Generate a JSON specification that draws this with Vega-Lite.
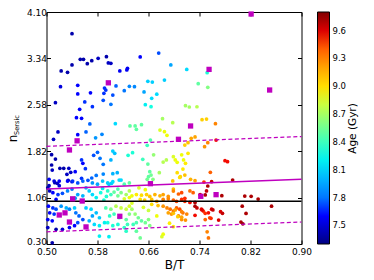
{
"$schema": "https://vega.github.io/schema/vega-lite/v6.json",
"width": 255, "height": 232,
"autosize": "none",
"padding": {"left": 46.5, "top": 12, "right": 72.5, "bottom": 36},
"config": {
 "font": "DejaVu Sans",
 "view": {"stroke": "black", "strokeWidth": 1},
 "axis": {"grid": false, "domain": false, "tickColor": "black", "tickSize": -4, "labelColor": "black", "labelFontSize": 9, "titleColor": "black", "titleFontWeight": "normal", "labelFont": "DejaVu Sans", "titleFont": "DejaVu Sans", "labelFlush": false, "labelOverlap": false},
 "legend": {"labelColor": "black", "labelFont": "DejaVu Sans", "padding": 0}
},
"datasets": {
"pts": [
{"bt":0.540,"n":3.745,"age":7.4},{"bt":0.553,"n":3.325,"age":7.4},{"bt":0.558,"n":3.325,"age":7.4},{"bt":0.594,"n":3.368,"age":7.4},{"bt":0.581,"n":3.342,"age":7.45},{"bt":0.571,"n":3.302,"age":7.4},{"bt":0.564,"n":3.253,"age":7.4},{"bt":0.540,"n":3.232,"age":7.4},{"bt":0.523,"n":3.134,"age":7.4},{"bt":0.533,"n":3.112,"age":7.4},{"bt":0.597,"n":3.265,"age":7.45},{"bt":0.601,"n":3.26,"age":7.45},{"bt":0.615,"n":3.134,"age":7.55},{"bt":0.627,"n":3.178,"age":7.55},{"bt":0.626,"n":3.15,"age":7.55},{"bt":0.647,"n":3.363,"age":7.6},{"bt":0.676,"n":3.428,"age":7.7},{"bt":0.695,"n":3.232,"age":7.95},{"bt":0.720,"n":3.16,"age":8.15},{"bt":0.752,"n":3.106,"age":8.3},
{"bt":0.522,"n":2.877,"age":7.5},{"bt":0.549,"n":2.90,"age":7.6},{"bt":0.549,"n":2.757,"age":7.6},{"bt":0.514,"n":2.614,"age":7.45},{"bt":0.552,"n":2.506,"age":7.6},{"bt":0.547,"n":2.369,"age":7.6},{"bt":0.555,"n":2.359,"age":7.6},{"bt":0.560,"n":2.626,"age":7.65},{"bt":0.569,"n":2.776,"age":7.6},{"bt":0.572,"n":2.549,"age":7.65},{"bt":0.568,"n":2.266,"age":7.75},{"bt":0.562,"n":2.135,"age":7.75},{"bt":0.549,"n":2.091,"age":7.6},{"bt":0.518,"n":2.135,"age":7.45},{"bt":0.511,"n":2.015,"age":7.45},{"bt":0.577,"n":2.04,"age":7.9},{"bt":0.587,"n":2.097,"age":7.85},{"bt":0.589,"n":2.654,"age":7.7},{"bt":0.590,"n":2.769,"age":7.65},{"bt":0.591,"n":2.855,"age":7.65},{"bt":0.593,"n":2.822,"age":7.65},{"bt":0.601,"n":2.588,"age":7.8},{"bt":0.604,"n":2.74,"age":7.7},{"bt":0.609,"n":2.888,"age":7.75},{"bt":0.622,"n":2.811,"age":7.8},{"bt":0.630,"n":2.883,"age":7.85},{"bt":0.638,"n":2.877,"age":7.85},{"bt":0.653,"n":2.79,"age":7.95},{"bt":0.659,"n":2.964,"age":8.1},{"bt":0.666,"n":2.953,"age":8.1},{"bt":0.685,"n":2.985,"age":8.1},{"bt":0.673,"n":2.753,"age":8.15},{"bt":0.665,"n":2.687,"age":8.15},{"bt":0.655,"n":2.582,"age":8.2},{"bt":0.664,"n":2.549,"age":8.25},{"bt":0.608,"n":2.271,"age":8.15},{"bt":0.631,"n":2.233,"age":8.5},{"bt":0.639,"n":2.233,"age":8.5},{"bt":0.641,"n":2.179,"age":8.5},{"bt":0.649,"n":2.254,"age":8.5},{"bt":0.682,"n":2.353,"age":8.7},{"bt":0.698,"n":2.287,"age":8.75},{"bt":0.678,"n":2.167,"age":8.85},{"bt":0.685,"n":2.14,"age":8.9},{"bt":0.689,"n":2.08,"age":8.9},{"bt":0.718,"n":2.565,"age":8.7},{"bt":0.724,"n":2.544,"age":8.7},{"bt":0.736,"n":2.548,"age":8.75},{"bt":0.738,"n":2.926,"age":8.5},{"bt":0.753,"n":2.866,"age":8.6},{"bt":0.744,"n":2.337,"age":9.05},{"bt":0.751,"n":2.347,"age":9.05},{"bt":0.765,"n":2.271,"age":9.3},{"bt":0.727,"n":2.031,"age":9.2},{"bt":0.733,"n":2.053,"age":9.2},
{"bt":0.663,"n":2.003,"age":8.45},{"bt":0.658,"n":1.916,"age":8.4},{"bt":0.604,"n":1.823,"age":8.1},{"bt":0.635,"n":1.796,"age":8.3},{"bt":0.628,"n":1.752,"age":8.3},{"bt":0.651,"n":1.687,"age":8.4},{"bt":0.659,"n":1.61,"age":8.5},{"bt":0.683,"n":1.643,"age":8.75},{"bt":0.688,"n":1.676,"age":8.75},{"bt":0.604,"n":1.452,"age":8.0},{"bt":0.611,"n":1.468,"age":8.0},{"bt":0.662,"n":1.485,"age":8.5},{"bt":0.664,"n":1.43,"age":8.55},{"bt":0.660,"n":1.403,"age":8.5},{"bt":0.658,"n":1.36,"age":8.55},{"bt":0.667,"n":1.36,"age":8.6},{"bt":0.677,"n":1.468,"age":8.7},{"bt":0.614,"n":1.348,"age":8.15},{"bt":0.617,"n":1.348,"age":8.15},{"bt":0.598,"n":1.277,"age":8.1},{"bt":0.602,"n":1.293,"age":8.1},{"bt":0.698,"n":1.332,"age":9.1},
{"bt":0.722,"n":1.96,"age":9.1},{"bt":0.717,"n":1.92,"age":9.05},{"bt":0.753,"n":1.96,"age":9.3},{"bt":0.748,"n":1.894,"age":9.25},{"bt":0.766,"n":2.003,"age":9.55},{"bt":0.722,"n":1.785,"age":8.95},{"bt":0.702,"n":1.676,"age":8.9},{"bt":0.705,"n":1.638,"age":8.9},{"bt":0.715,"n":1.676,"age":8.9},{"bt":0.718,"n":1.621,"age":8.95},{"bt":0.714,"n":1.528,"age":8.95},{"bt":0.705,"n":1.468,"age":9.0},{"bt":0.710,"n":1.403,"age":9.05},{"bt":0.717,"n":1.43,"age":9.1},{"bt":0.780,"n":1.665,"age":9.55},{"bt":0.784,"n":1.649,"age":9.55},{"bt":0.757,"n":1.474,"age":9.4},{"bt":0.726,"n":1.36,"age":9.15},{"bt":0.733,"n":1.337,"age":9.2},{"bt":0.747,"n":1.315,"age":9.5},{"bt":0.792,"n":1.348,"age":9.7},{"bt":0.753,"n":1.25,"age":9.7},{"bt":0.709,"n":1.39,"age":9.0},{"bt":0.759,"n":1.32,"age":9.65},
{"bt":0.580,"n":1.802,"age":7.75},{"bt":0.574,"n":1.752,"age":7.7},{"bt":0.589,"n":1.605,"age":7.8},{"bt":0.508,"n":1.763,"age":7.4},{"bt":0.514,"n":1.692,"age":7.4},{"bt":0.508,"n":1.594,"age":7.4},{"bt":0.509,"n":1.512,"age":7.45},{"bt":0.521,"n":1.54,"age":7.4},{"bt":0.527,"n":1.54,"age":7.4},{"bt":0.535,"n":1.54,"age":7.45},{"bt":0.538,"n":1.474,"age":7.45},{"bt":0.532,"n":1.441,"age":7.45},{"bt":0.557,"n":1.621,"age":7.6},{"bt":0.561,"n":1.533,"age":7.65},{"bt":0.534,"n":1.343,"age":7.45},{"bt":0.555,"n":1.375,"age":7.65},{"bt":0.565,"n":1.343,"age":7.7},{"bt":0.571,"n":1.381,"age":7.75},{"bt":0.578,"n":1.424,"age":7.8},{"bt":0.589,"n":1.446,"age":7.85},{"bt":0.513,"n":1.304,"age":7.4},{"bt":0.517,"n":1.293,"age":7.45},{"bt":0.504,"n":1.255,"age":7.45},{"bt":0.520,"n":1.255,"age":7.5},{"bt":0.555,"n":1.676,"age":7.65},{"bt":0.584,"n":1.703,"age":7.8},{"bt":0.545,"n":1.485,"age":7.6},{"bt":0.601,"n":1.676,"age":8.0},{"bt":0.607,"n":1.785,"age":8.05},{"bt":0.540,"n":1.32,"age":7.5},{"bt":0.668,"n":1.76,"age":8.65},{"bt":0.699,"n":1.73,"age":8.85},{"bt":0.712,"n":1.76,"age":8.9},
{"bt":0.504,"n":1.36,"age":7.55},{"bt":0.512,"n":1.33,"age":7.5},{"bt":0.520,"n":1.33,"age":7.55},{"bt":0.533,"n":1.33,"age":7.6},{"bt":0.541,"n":1.33,"age":7.65},{"bt":0.549,"n":1.30,"age":7.7},{"bt":0.557,"n":1.33,"age":7.75},{"bt":0.572,"n":1.30,"age":7.9},{"bt":0.580,"n":1.28,"age":7.95},{"bt":0.588,"n":1.33,"age":8.05},{"bt":0.596,"n":1.30,"age":8.1},{"bt":0.604,"n":1.32,"age":8.15},{"bt":0.622,"n":1.28,"age":8.45},{"bt":0.630,"n":1.30,"age":8.5},{"bt":0.502,"n":1.22,"age":7.4},{"bt":0.505,"n":1.17,"age":7.45},
{"bt":0.510,"n":1.14,"age":7.6},{"bt":0.518,"n":1.11,"age":7.65},{"bt":0.525,"n":1.13,"age":7.7},{"bt":0.533,"n":1.17,"age":7.85},{"bt":0.549,"n":1.11,"age":7.95},{"bt":0.557,"n":1.09,"age":8.0},{"bt":0.567,"n":1.17,"age":8.1},{"bt":0.572,"n":1.11,"age":8.15},{"bt":0.578,"n":1.06,"age":8.2},{"bt":0.585,"n":1.14,"age":8.25},{"bt":0.594,"n":1.08,"age":8.3},{"bt":0.596,"n":1.17,"age":8.35},{"bt":0.601,"n":1.11,"age":8.4},{"bt":0.606,"n":1.15,"age":8.5},{"bt":0.612,"n":1.09,"age":8.55},{"bt":0.617,"n":1.14,"age":8.6},{"bt":0.625,"n":1.11,"age":8.7},{"bt":0.630,"n":1.17,"age":8.75},{"bt":0.622,"n":1.04,"age":8.85},{"bt":0.630,"n":1.06,"age":8.9},{"bt":0.540,"n":1.20,"age":7.8},{"bt":0.562,"n":1.22,"age":8.0},{"bt":0.588,"n":1.21,"age":8.2},{"bt":0.612,"n":1.20,"age":8.45},{"bt":0.545,"n":1.05,"age":7.9},{"bt":0.590,"n":1.02,"age":8.3},{"bt":0.515,"n":1.03,"age":7.6},
{"bt":0.503,"n":0.92,"age":7.6},{"bt":0.510,"n":0.89,"age":7.65},{"bt":0.515,"n":0.87,"age":7.7},{"bt":0.505,"n":0.81,"age":7.6},{"bt":0.512,"n":0.79,"age":7.65},{"bt":0.502,"n":0.70,"age":7.55},{"bt":0.509,"n":0.68,"age":7.6},{"bt":0.502,"n":0.57,"age":7.45},{"bt":0.515,"n":0.54,"age":7.4},{"bt":0.525,"n":0.54,"age":7.5},{"bt":0.536,"n":0.57,"age":7.55},{"bt":0.509,"n":0.32,"age":7.4},{"bt":0.523,"n":0.92,"age":7.9},{"bt":0.531,"n":0.89,"age":8.0},{"bt":0.536,"n":0.87,"age":7.85},{"bt":0.544,"n":0.89,"age":8.1},{"bt":0.546,"n":0.81,"age":7.8},{"bt":0.551,"n":0.76,"age":7.75},{"bt":0.557,"n":0.70,"age":7.7},{"bt":0.549,"n":0.65,"age":7.7},{"bt":0.544,"n":0.60,"age":7.6},{"bt":0.562,"n":0.89,"age":8.1},{"bt":0.570,"n":0.87,"age":8.15},{"bt":0.578,"n":0.81,"age":8.05},{"bt":0.572,"n":0.76,"age":7.95},{"bt":0.583,"n":0.73,"age":8.1},{"bt":0.567,"n":0.68,"age":8.0},{"bt":0.575,"n":0.62,"age":8.15},{"bt":0.583,"n":0.60,"age":8.2},{"bt":0.591,"n":0.65,"age":8.2},{"bt":0.593,"n":0.89,"age":8.45},{"bt":0.601,"n":0.87,"age":8.6},{"bt":0.609,"n":0.92,"age":8.75},{"bt":0.617,"n":0.89,"age":8.8},{"bt":0.625,"n":0.87,"age":8.8},{"bt":0.630,"n":0.92,"age":8.85},{"bt":0.599,"n":0.76,"age":8.35},{"bt":0.606,"n":0.79,"age":8.4},{"bt":0.614,"n":0.73,"age":8.45},{"bt":0.625,"n":0.70,"age":8.5},{"bt":0.630,"n":0.79,"age":8.6},{"bt":0.596,"n":0.65,"age":8.25},{"bt":0.604,"n":0.60,"age":8.3},{"bt":0.612,"n":0.62,"age":8.3},{"bt":0.622,"n":0.57,"age":8.35},{"bt":0.627,"n":0.62,"age":8.4},{"bt":0.583,"n":0.43,"age":8.2},{"bt":0.625,"n":0.51,"age":8.35},{"bt":0.598,"n":0.42,"age":8.2},
{"bt":0.699,"n":1.20,"age":9.1},{"bt":0.725,"n":1.17,"age":9.35},{"bt":0.730,"n":1.14,"age":9.4},{"bt":0.741,"n":1.11,"age":9.65},{"bt":0.751,"n":1.17,"age":9.65},
{"bt":0.634,"n":1.09,"age":8.9},{"bt":0.641,"n":1.11,"age":8.95},{"bt":0.649,"n":1.10,"age":9.0},{"bt":0.657,"n":1.11,"age":9.05},{"bt":0.662,"n":1.08,"age":9.1},{"bt":0.670,"n":1.11,"age":9.15},{"bt":0.678,"n":1.09,"age":9.15},{"bt":0.683,"n":1.11,"age":9.2},{"bt":0.691,"n":1.08,"age":9.25},
{"bt":0.647,"n":1.03,"age":9.0},{"bt":0.654,"n":1.02,"age":9.05},{"bt":0.665,"n":1.03,"age":9.1},{"bt":0.673,"n":1.00,"age":9.2},
{"bt":0.683,"n":1.03,"age":9.3},{"bt":0.691,"n":1.04,"age":9.3},{"bt":0.699,"n":1.02,"age":9.4},{"bt":0.704,"n":1.00,"age":9.45},{"bt":0.712,"n":1.03,"age":9.5},{"bt":0.717,"n":1.00,"age":9.5},{"bt":0.725,"n":0.98,"age":9.55},
{"bt":0.733,"n":0.98,"age":9.7},{"bt":0.733,"n":0.92,"age":9.7},{"bt":0.736,"n":0.89,"age":9.65},
{"bt":0.683,"n":0.92,"age":9.25},{"bt":0.689,"n":0.89,"age":9.3},{"bt":0.694,"n":0.87,"age":9.35},{"bt":0.699,"n":0.84,"age":9.35},{"bt":0.691,"n":0.81,"age":9.2},{"bt":0.696,"n":0.79,"age":9.25},{"bt":0.704,"n":0.89,"age":9.4},{"bt":0.709,"n":0.87,"age":9.45},{"bt":0.714,"n":0.81,"age":9.35},{"bt":0.707,"n":0.76,"age":9.3},{"bt":0.712,"n":0.70,"age":9.25},
{"bt":0.743,"n":0.87,"age":9.55},{"bt":0.746,"n":0.84,"age":9.5},{"bt":0.754,"n":0.81,"age":9.55},{"bt":0.759,"n":0.87,"age":9.6},{"bt":0.756,"n":0.73,"age":9.45},{"bt":0.749,"n":0.70,"age":9.4},
{"bt":0.754,"n":0.40,"age":9.35},{"bt":0.634,"n":0.87,"age":8.7},{"bt":0.639,"n":0.79,"age":8.65},{"bt":0.644,"n":0.73,"age":8.55},{"bt":0.649,"n":0.68,"age":8.5},{"bt":0.655,"n":0.65,"age":8.55},{"bt":0.660,"n":0.70,"age":8.6},{"bt":0.641,"n":0.65,"age":8.45},{"bt":0.636,"n":0.62,"age":8.4},{"bt":0.662,"n":0.60,"age":8.6},{"bt":0.647,"n":0.40,"age":8.55},{"bt":0.641,"n":0.51,"age":8.5},{"bt":0.673,"n":0.76,"age":8.9},{"bt":0.683,"n":0.46,"age":8.9},{"bt":0.681,"n":0.42,"age":8.85},{"bt":0.634,"n":0.97,"age":8.85},{"bt":0.645,"n":1.22,"age":8.85},{"bt":0.655,"n":1.19,"age":8.9},{"bt":0.665,"n":0.95,"age":9.0},{"bt":0.675,"n":0.93,"age":9.1},{"bt":0.652,"n":0.90,"age":8.85},{"bt":0.660,"n":0.85,"age":8.8},
{"bt":0.699,"n":1.168,"age":9.3},{"bt":0.707,"n":1.119,"age":9.4},{"bt":0.712,"n":1.14,"age":9.45},{"bt":0.717,"n":1.049,"age":9.5},{"bt":0.749,"n":1.103,"age":9.7},{"bt":0.775,"n":1.092,"age":9.7},{"bt":0.744,"n":0.857,"age":9.6},{"bt":0.761,"n":0.857,"age":9.65},{"bt":0.773,"n":0.83,"age":9.6},{"bt":0.776,"n":0.803,"age":9.65},{"bt":0.770,"n":0.693,"age":9.6},{"bt":0.749,"n":0.803,"age":9.5},{"bt":0.758,"n":0.72,"age":9.5},{"bt":0.712,"n":0.83,"age":9.3},{"bt":0.720,"n":0.79,"age":9.3},{"bt":0.718,"n":0.693,"age":9.25},{"bt":0.712,"n":0.74,"age":9.2},{"bt":0.702,"n":0.857,"age":9.2},{"bt":0.699,"n":0.803,"age":9.1},{"bt":0.706,"n":0.747,"age":9.05},{"bt":0.699,"n":0.583,"age":8.95},{"bt":0.752,"n":0.50,"age":9.3},{"bt":0.733,"n":0.77,"age":9.55},{"bt":0.693,"n":0.64,"age":8.95},
{"bt":0.811,"n":1.086,"age":9.7},{"bt":0.821,"n":1.081,"age":9.7},{"bt":0.832,"n":1.037,"age":9.7},{"bt":0.807,"n":0.92,"age":9.7},{"bt":0.853,"n":0.92,"age":9.7},{"bt":0.813,"n":0.80,"age":9.7},{"bt":0.805,"n":0.66,"age":9.7},{"bt":0.808,"n":0.63,"age":9.75}
],
"sq": [
{"bt":0.597,"n":2.94},{"bt":0.548,"n":1.99},{"bt":0.536,"n":1.84},{"bt":0.726,"n":2.233},{"bt":0.707,"n":2.015},{"bt":0.755,"n":3.16},{"bt":0.821,"n":4.067},{"bt":0.850,"n":2.822},{"bt":0.541,"n":1.04},{"bt":0.556,"n":1.004},{"bt":0.520,"n":0.775},{"bt":0.529,"n":0.81},{"bt":0.536,"n":0.66},{"bt":0.562,"n":0.58},{"bt":0.615,"n":0.754},{"bt":0.663,"n":1.288},{"bt":0.742,"n":1.081},{"bt":0.766,"n":1.108}
],
"lines": [
{"bt":0.5,"n":1.20,"g":"fit"},{"bt":0.9,"n":1.36,"g":"fit"},
{"bt":0.5,"n":1.90,"g":"up"},{"bt":0.9,"n":2.06,"g":"up"},
{"bt":0.5,"n":0.50,"g":"lo"},{"bt":0.9,"n":0.66,"g":"lo"},
{"bt":0.5,"n":1.0,"g":"one"},{"bt":0.9,"n":1.0,"g":"one"}
]
},
"resolve": {"axis": {"x": "independent", "y": "independent"}},
"layer": [
{
 "data": {"name": "pts"},
 "mark": {"type": "circle", "size": 14, "opacity": 1, "stroke": null},
 "encoding": {
  "x": {"field": "bt", "type": "quantitative", "scale": {"domain": [0.5, 0.9], "nice": false, "zero": false},
        "axis": {"orient": "bottom", "values": [0.5, 0.58, 0.66, 0.74, 0.82, 0.9], "format": ".2f", "title": "B/T", "titleFontSize": 12, "labelPadding": 7, "titlePadding": 3}},
  "y": {"field": "n", "type": "quantitative", "scale": {"domain": [0.3, 4.1], "nice": false, "zero": false},
        "axis": {"orient": "left", "values": [0.3, 1.06, 1.82, 2.58, 3.34, 4.1], "format": ".2f", "title": "n", "titleFontSize": 12, "titleX": -30.5, "titleY": 126, "titleAlign": "center", "titleBaseline": "alphabetic", "labelPadding": 4,
                 "labelBaseline": {"condition": {"test": "datum.value < 0.5", "value": "alphabetic"}, "value": "middle"}}},
  "color": {"field": "age", "type": "quantitative",
   "scale": {"domain": [7.3, 7.575, 7.6125, 8.15, 8.175, 8.2375, 8.9, 8.925, 8.95, 9.525, 9.575, 9.8],
             "range": ["#000080", "#0000ff", "#0000ff", "#00dbff", "#00e5f7", "#14ffe2", "#eeff08", "#f7f500", "#ffec00", "#ff1300", "#e80000", "#800000"], "nice": false, "zero": false},
   "legend": {"orient": "none", "legendX": 271, "legendY": 0, "direction": "vertical", "gradientLength": 232, "gradientThickness": 12, "title": null,
              "values": [7.5, 7.8, 8.1, 8.4, 8.7, 9.0, 9.3, 9.6], "format": ".1f", "labelFontSize": 8.5, "labelOffset": 3,
              "gradientStrokeColor": "black", "gradientStrokeWidth": 1}}
 }
},
{
 "data": {"name": "lines"},
 "transform": [{"filter": "datum.g === 'one'"}],
 "mark": {"type": "line", "color": "black", "strokeWidth": 1.5},
 "encoding": {
  "x": {"field": "bt", "type": "quantitative", "scale": {"domain": [0.5, 0.9], "nice": false, "zero": false}, "axis": null},
  "y": {"field": "n", "type": "quantitative", "scale": {"domain": [0.3, 4.1], "nice": false, "zero": false},
        "axis": {"orient": "left", "labels": false, "ticks": false, "values": [], "title": "Sersic", "titleFontSize": 6.6, "titleX": -28, "titleY": 122.5, "titleAlign": "left", "titleBaseline": "alphabetic", "titleAngle": 270}}
 }
},
{
 "data": {"name": "lines"},
 "transform": [{"filter": "datum.g === 'fit'"}],
 "mark": {"type": "line", "color": "#bf00bf", "strokeWidth": 1.5},
 "encoding": {
  "x": {"field": "bt", "type": "quantitative", "axis": null},
  "y": {"field": "n", "type": "quantitative", "axis": null}
 }
},
{
 "data": {"name": "lines"},
 "transform": [{"filter": "datum.g === 'up' || datum.g === 'lo'"}],
 "mark": {"type": "line", "color": "#bf00bf", "strokeWidth": 1.2, "strokeDash": [4, 2.5]},
 "encoding": {
  "x": {"field": "bt", "type": "quantitative", "axis": null},
  "y": {"field": "n", "type": "quantitative", "axis": null},
  "detail": {"field": "g"}
 }
},
{
 "data": {"name": "sq"},
 "mark": {"type": "square", "size": 28, "color": "#bf00bf", "opacity": 1},
 "encoding": {
  "x": {"field": "bt", "type": "quantitative", "axis": {"orient": "top", "labels": false, "title": null, "values": [0.5, 0.58, 0.66, 0.74, 0.82, 0.9]}},
  "y": {"field": "n", "type": "quantitative", "axis": {"orient": "right", "labels": false, "values": [0.3, 1.06, 1.82, 2.58, 3.34, 4.1], "title": "Age (Gyr)", "titleFontSize": 10.5, "titleAngle": 270, "titleX": 54, "titleY": 116, "titleAlign": "center", "titleBaseline": "alphabetic"}}
 }
}
]
}
